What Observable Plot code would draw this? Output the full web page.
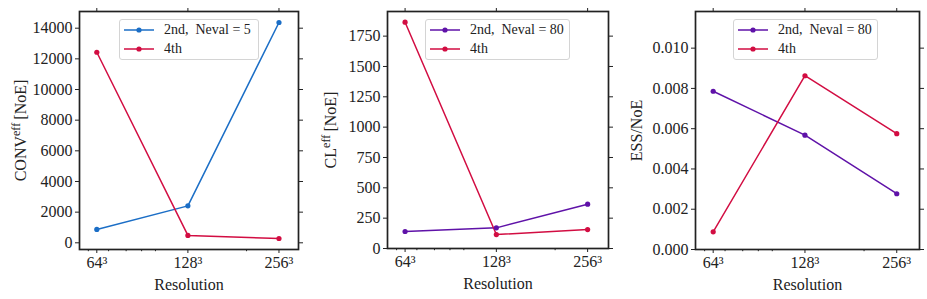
<!DOCTYPE html>
<html>
<head>
<meta charset="utf-8">
<script src="https://cdn.jsdelivr.net/npm/d3@7"></script>
<script src="https://cdn.jsdelivr.net/npm/@observablehq/plot@0.6"></script>
<style>
  html, body { margin: 0; padding: 0; background: #fff; }
  #wrap { position: relative; width: 927px; height: 299px; overflow: hidden; font-family: "Liberation Serif", "Times New Roman", serif; color: #222; }
  .panel { position: absolute; top: 0; }
  .legend { position: absolute; background: rgba(255,255,255,0.85); border: 1px solid #d4d4d4; border-radius: 3px; box-sizing: border-box; font-size: 14px; }
  .legend .row { position: absolute; left: 0; height: 18px; display: flex; align-items: center; white-space: nowrap; }
  .legend svg { display: block; }
</style>
</head>
<body>
<div id="wrap"></div>
<script>
// ---- data ----
const resolutions = [64, 128, 256];
const resolutionLabels = ["64³", "128³", "256³"];
const minorTicks = [60, 70, 80, 90, 100, 200];

const conv2nd = [870, 2410, 14370];
const conv4th = [12430, 480, 280];
const convTicks = [0, 2000, 4000, 6000, 8000, 10000, 12000, 14000];

const cl2nd = [140, 170, 365];
const cl4th = [1865, 115, 156];
const clTicks = [0, 250, 500, 750, 1000, 1250, 1500, 1750];

const ess2nd = [0.00786, 0.00568, 0.00277];
const ess4th = [0.00088, 0.00863, 0.00575];
const essTicks = [0, 0.002, 0.004, 0.006, 0.008, 0.010];

const seriesNames = ["2nd", "4th"];

// ---- styles ----
const BLUE = "#1b6ec6", PURPLE = "#5f12a8", RED = "#d20d42";
const FONT = "Liberation Serif, Times New Roman, serif";

const wrap = document.getElementById("wrap");

function panel(cfg) {
  const data = resolutions.flatMap((r, i) => [
    {r, v: cfg.s2[i], s: seriesNames[0]},
    {r, v: cfg.s4[i], s: seriesNames[1]}
  ]);
  const txt = {fontFamily: FONT, fontSize: 16, stroke: "#222"};
  const svg = Plot.plot({
    width: cfg.width, height: 299,
    marginLeft: cfg.ml, marginRight: cfg.mr, marginTop: 11, marginBottom: cfg.mb,
    style: {fontSize: "16px", fontFamily: FONT, color: "#222", background: "transparent", overflow: "visible"},
    x: {type: "log", domain: cfg.xDomain},
    y: {domain: cfg.yDomain},
    color: {domain: seriesNames, range: [cfg.c2, RED]},
    marks: [
      Plot.line(data, {x: "r", y: "v", stroke: "s", z: "s", strokeWidth: 1.5}),
      Plot.dot(data, {x: "r", y: "v", fill: "s", r: 2.6}),
      Plot.axisX({...txt, ticks: resolutions, tickFormat: d => resolutionLabels[resolutions.indexOf(d)], tickSize: 4, tickPadding: 3,
        label: "Resolution", labelAnchor: "center", labelOffset: 40, labelArrow: "none"}),
      Plot.axisX(minorTicks, {tickSize: 2.2, tickFormat: () => "", label: null, stroke: "#222"}),
      Plot.axisX({anchor: "top", ticks: resolutions, tickSize: 4, tickFormat: () => "", label: null, stroke: "#222"}),
      Plot.axisY({...txt, ticks: cfg.yTicks, tickFormat: cfg.yFormat, tickSize: 4, tickPadding: 3,
        label: cfg.ylabel, labelAnchor: "center", labelOffset: cfg.labelOffset, labelArrow: "none"}),
      Plot.axisY({anchor: "right", ticks: cfg.yTicks, tickSize: 4, tickFormat: () => "", label: null, stroke: "#222"}),
      Plot.frame({stroke: "#222", strokeWidth: 1.7})
    ]
  });
  svg.setAttribute("font-family", FONT);
  svg.querySelectorAll("text").forEach(t => { t.style.fontFamily = FONT; t.style.fontSize = "16px"; t.setAttribute("fill", "#222"); t.setAttribute("stroke", "none"); });
  // superscript in y label
  const t = svg.querySelector('[aria-label="y-axis label"] text');
  if (t && cfg.sup) {
    t.textContent = "";
    const ns = "http://www.w3.org/2000/svg";
    const a = document.createElementNS(ns, "tspan"); a.textContent = cfg.base;
    const b = document.createElementNS(ns, "tspan"); b.textContent = cfg.sup; b.setAttribute("dy", "-6px"); b.setAttribute("font-size", "12px"); b.style.fontSize = "12px";
    const c = document.createElementNS(ns, "tspan"); c.textContent = "\u2009" + cfg.after; c.setAttribute("dy", "6px");
    t.append(a, b, c);
  }
  const div = document.createElement("div");
  div.className = "panel";
  div.style.left = cfg.left + "px";
  div.appendChild(svg);
  wrap.appendChild(div);

  // legend
  const lg = document.createElement("div");
  lg.className = "legend";
  lg.style.left = cfg.legend[0] + "px";
  lg.style.top = "19px";
  lg.style.width = cfg.legend[1] + "px";
  lg.style.height = "41px";
  [[cfg.c2, cfg.label2, 1], [RED, "4th", 20]].forEach(([col, label, top]) => {
    const row = document.createElement("div");
    row.className = "row";
    row.style.top = top + "px";
    row.innerHTML = `<svg width="44" height="18"><line x1="4" x2="34" y1="9" y2="9" stroke="${col}" stroke-width="1.5"/><circle cx="19" cy="9" r="2.6" fill="${col}"/></svg><span>${label}</span>`;
    lg.appendChild(row);
  });
  wrap.appendChild(lg);
}

panel({left: 0, width: 310, ml: 79, mr: 12, mb: 50, xDomain: [56.1, 297],
  yDomain: [-437, 15089], yTicks: convTicks, yFormat: d => String(d),
  s2: conv2nd, s4: conv4th, c2: BLUE, label2: "2nd,\u2002Neval = 5",
  ylabel: "CONVeff [NoE]", base: "CONV", sup: "eff", after: "[NoE]", labelOffset: 65,
  legend: [119, 140]});

panel({left: 310, width: 307, ml: 77, mr: 9, mb: 51, xDomain: [56.0, 300],
  yDomain: [0, 1953], yTicks: clTicks, yFormat: d => String(d),
  s2: cl2nd, s4: cl4th, c2: PURPLE, label2: "2nd,\u2002Neval = 80",
  ylabel: "CLeff [NoE]", base: "CL", sup: "eff", after: "[NoE]", labelOffset: 63,
  legend: [425, 145]});

panel({left: 617, width: 310, ml: 78, mr: 8, mb: 50, xDomain: [56.0, 304],
  yDomain: [0, 0.01182], yTicks: essTicks, yFormat: d3.format(".3f"),
  s2: ess2nd, s4: ess4th, c2: PURPLE, label2: "2nd,\u2002Neval = 80",
  ylabel: "ESS/NoE", labelOffset: 65,
  legend: [733, 145]});
</script>
</body>
</html>
